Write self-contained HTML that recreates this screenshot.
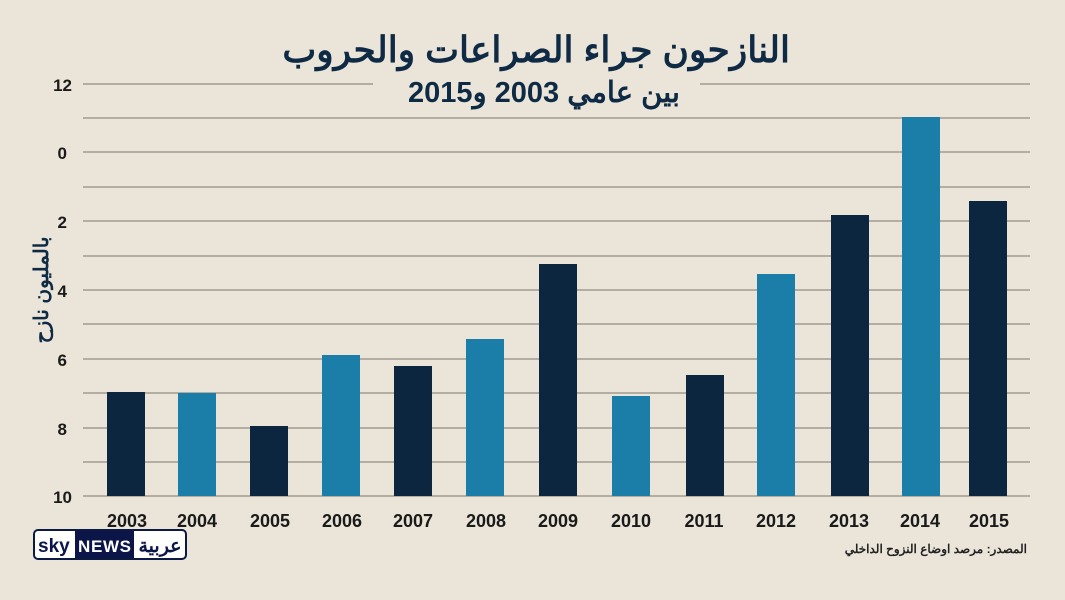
<!DOCTYPE html>
<html><head><meta charset="utf-8"><style>
body{margin:0;width:1065px;height:600px;background:#ebe5d9;overflow:hidden;font-family:"Liberation Sans","Noto Sans CJK SC",sans-serif;position:relative}
.t{position:absolute;color:#0f2a44;font-weight:bold;white-space:nowrap}
</style></head><body>
<svg width="1065" height="600" style="position:absolute;left:0;top:0">
<g stroke="#b3ada3" stroke-width="2">
<line x1="83" x2="373" y1="84" y2="84"/><line x1="700" x2="1030" y1="84" y2="84"/>
<line x1="83" x2="1030" y1="118" y2="118"/>
<line x1="83" x2="1030" y1="152" y2="152"/>
<line x1="83" x2="1030" y1="187" y2="187"/>
<line x1="83" x2="1030" y1="221" y2="221"/>
<line x1="83" x2="1030" y1="256" y2="256"/>
<line x1="83" x2="1030" y1="290" y2="290"/>
<line x1="83" x2="1030" y1="324" y2="324"/>
<line x1="83" x2="1030" y1="359" y2="359"/>
<line x1="83" x2="1030" y1="393" y2="393"/>
<line x1="83" x2="1030" y1="428" y2="428"/>
<line x1="83" x2="1030" y1="462" y2="462"/>
<line x1="83" x2="1030" y1="496" y2="496"/>
</g>
<g>
<rect x="107" y="392" width="38" height="104" fill="#0d2640"/>
<rect x="178" y="393" width="38" height="103" fill="#1a7ea8"/>
<rect x="250" y="426" width="38" height="70" fill="#0d2640"/>
<rect x="322" y="355" width="38" height="141" fill="#1a7ea8"/>
<rect x="394" y="366" width="38" height="130" fill="#0d2640"/>
<rect x="466" y="339" width="38" height="157" fill="#1a7ea8"/>
<rect x="539" y="264" width="38" height="232" fill="#0d2640"/>
<rect x="612" y="396" width="38" height="100" fill="#1a7ea8"/>
<rect x="686" y="375" width="38" height="121" fill="#0d2640"/>
<rect x="757" y="274" width="38" height="222" fill="#1a7ea8"/>
<rect x="831" y="215" width="38" height="281" fill="#0d2640"/>
<rect x="902" y="117" width="38" height="379" fill="#1a7ea8"/>
<rect x="969" y="201" width="38" height="295" fill="#0d2640"/>
</g>
<g font-family="Liberation Sans,sans-serif" font-weight="bold" font-size="17" fill="#1a1a1a" text-anchor="end">
<text x="72" y="91">12</text><text x="67" y="159">0</text><text x="67" y="228">2</text><text x="67" y="297">4</text><text x="67" y="366">6</text><text x="67" y="435">8</text><text x="72" y="503">10</text>
</g>
<g font-family="Liberation Sans,sans-serif" font-weight="bold" font-size="18" fill="#1a1a1a" text-anchor="middle">
<text x="127" y="527">2003</text><text x="197" y="527">2004</text><text x="270" y="527">2005</text><text x="342" y="527">2006</text><text x="413" y="527">2007</text><text x="486" y="527">2008</text><text x="558" y="527">2009</text><text x="631" y="527">2010</text><text x="704" y="527">2011</text><text x="776" y="527">2012</text><text x="849" y="527">2013</text><text x="920" y="527">2014</text><text x="989" y="527">2015</text>
</g>
<text transform="translate(48,290) rotate(-90)" text-anchor="middle" font-family="Liberation Sans,Noto Sans CJK SC,sans-serif" font-weight="bold" font-size="20" fill="#0f2a44">بالمليون نازح</text>
<rect x="34" y="530" width="152" height="29" rx="4" fill="#fff" stroke="#0b1a45" stroke-width="2"/>
<rect x="75" y="531" width="59" height="27" fill="#0b1547"/>
<text x="38" y="552" font-family="Liberation Sans,sans-serif" font-weight="bold" font-size="19" fill="#0b1547">sky</text>
<text x="78" y="552" font-family="Liberation Sans,sans-serif" font-weight="bold" font-size="17" fill="#fff" textLength="53">NEWS</text>
<text x="160" y="552" text-anchor="middle" font-family="Noto Sans CJK SC,sans-serif" font-weight="bold" font-size="19" fill="#0b1547">عربية</text>
</svg>
<div class="t" style="right:275px;top:28px;font-size:36px;line-height:44px">النازحون جراء الصراعات والحروب</div>
<div class="t" style="right:385px;top:75px;font-size:29px;line-height:36px">بين عامي 2003 و2015</div>
<div class="t" style="right:38px;top:542px;font-size:12px;color:#222">المصدر: مرصد اوضاع النزوح الداخلي</div>
</body></html>
